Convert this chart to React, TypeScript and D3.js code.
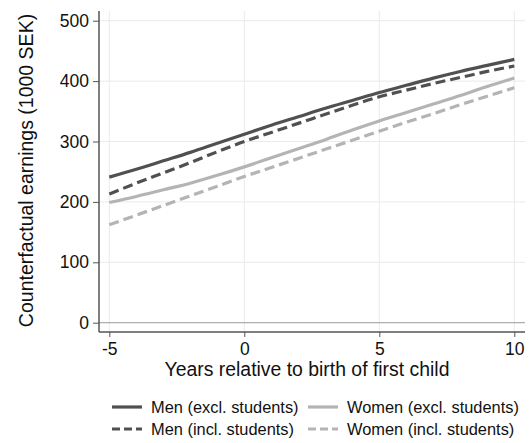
import { useEffect, useRef } from "react";
import * as d3 from "d3";

const YEARS: number[] = [-5, -4, -3, -2, -1, 0, 1, 2, 3, 4, 5, 6, 7, 8, 9, 10];
const MEN_EXCL: number[] = [241, 254, 268, 282, 297, 312, 327, 341, 355, 368, 381, 393, 405, 416, 426, 436];
const MEN_INCL: number[] = [213, 231, 248, 265, 283, 300, 315, 330, 345, 360, 374, 385, 396, 406, 416, 425];
const WOMEN_EXCL: number[] = [199, 209, 220, 231, 244, 258, 273, 288, 303, 319, 334, 348, 362, 376, 391, 405];
const WOMEN_INCL: number[] = [162, 178, 194, 210, 226, 242, 257, 272, 287, 302, 317, 332, 346, 361, 375, 389];
const X_TICKS: number[] = [-5, 0, 5, 10];
const Y_TICKS: number[] = [0, 100, 200, 300, 400, 500];
const LABELS: string[] = [
  "Men (excl. students)",
  "Men (incl. students)",
  "Women (excl. students)",
  "Women (incl. students)",
];

const W = 530;
const H = 443;
const FONT = "Liberation Sans, Arial, sans-serif";
const DARK = "#505050";
const LIGHT = "#b4b4b4";

const App = () => {
  const svgRef = useRef<SVGSVGElement | null>(null);

  useEffect(() => {
    if (!svgRef.current) return;
    const svg = d3.select(svgRef.current);
    svg.selectAll("*").remove();

    const x = d3.scaleLinear().domain([-5, 10]).range([109.3, 514.3]);
    const y = d3.scaleLinear().domain([0, 500]).range([322.7, 20.7]);
    const left = 99;
    const right = 525;
    const top = 11;
    const bottom = 332;

    // grid
    const grid = svg.append("g");
    grid
      .selectAll("line.h")
      .data(Y_TICKS)
      .join("line")
      .attr("x1", left)
      .attr("x2", right)
      .attr("y1", (d) => y(d))
      .attr("y2", (d) => y(d))
      .attr("stroke", "#eaeaea")
      .attr("stroke-width", 1);
    grid
      .selectAll("line.v")
      .data(X_TICKS)
      .join("line")
      .attr("x1", (d) => x(d))
      .attr("x2", (d) => x(d))
      .attr("y1", top)
      .attr("y2", bottom)
      .attr("stroke", "#eaeaea")
      .attr("stroke-width", 1);

    // zero line
    svg
      .append("line")
      .attr("x1", left)
      .attr("x2", right)
      .attr("y1", y(0))
      .attr("y2", y(0))
      .attr("stroke", "#a0a0a0")
      .attr("stroke-width", 1);

    // series
    const series = [
      { vals: WOMEN_INCL, color: LIGHT, dash: "10,5" },
      { vals: WOMEN_EXCL, color: LIGHT, dash: null },
      { vals: MEN_INCL, color: DARK, dash: "10,5" },
      { vals: MEN_EXCL, color: DARK, dash: null },
    ];
    const line = d3
      .line<number>()
      .x((_, i) => x(YEARS[i]))
      .y((d) => y(d))
      .curve(d3.curveMonotoneX);
    series.forEach((s) => {
      svg
        .append("path")
        .datum(s.vals)
        .attr("fill", "none")
        .attr("stroke", s.color)
        .attr("stroke-width", 3.2)
        .attr("stroke-dasharray", s.dash)
        .attr("d", line);
    });

    // axes
    const yAxis = svg
      .append("g")
      .attr("transform", `translate(${left},0)`)
      .call(d3.axisLeft(y).tickValues(Y_TICKS).tickSize(6).tickPadding(4));
    yAxis.select(".domain").attr("d", `M0,${top}V${bottom}`);
    const xAxis = svg
      .append("g")
      .attr("transform", `translate(0,${bottom})`)
      .call(
        d3
          .axisBottom(x)
          .tickValues(X_TICKS)
          .tickSize(5)
          .tickPadding(6)
          .tickFormat((d) => String(d))
      );
    xAxis.select(".domain").attr("d", `M${left},0H${right}`);
    [yAxis, xAxis].forEach((a) => {
      a.selectAll(".domain").attr("stroke", "#555").attr("stroke-width", 1.5);
      a.selectAll(".tick line").attr("stroke", "#555");
      a.selectAll(".tick text")
        .attr("font-family", FONT)
        .attr("font-size", 17.5)
        .attr("fill", "#111");
    });

    // titles
    svg
      .append("text")
      .attr("x", 307)
      .attr("y", 376)
      .attr("text-anchor", "middle")
      .attr("font-family", FONT)
      .attr("font-size", 19.4)
      .attr("fill", "#111")
      .text("Years relative to birth of first child");
    svg
      .append("text")
      .attr("transform", `translate(33,170.5) rotate(-90)`)
      .attr("text-anchor", "middle")
      .attr("font-family", FONT)
      .attr("font-size", 19.5)
      .attr("fill", "#111")
      .text("Counterfactual earnings (1000 SEK)");

    // legend
    const legend = [
      { label: LABELS[0], color: DARK, dash: null, x: 112, y: 407 },
      { label: LABELS[1], color: DARK, dash: "8,4", x: 112, y: 429 },
      { label: LABELS[2], color: LIGHT, dash: null, x: 308, y: 407 },
      { label: LABELS[3], color: LIGHT, dash: "8,4", x: 308, y: 429 },
    ];
    legend.forEach((l) => {
      svg
        .append("line")
        .attr("x1", l.x)
        .attr("x2", l.x + 30)
        .attr("y1", l.y)
        .attr("y2", l.y)
        .attr("stroke", l.color)
        .attr("stroke-width", 3.2)
        .attr("stroke-dasharray", l.dash);
      svg
        .append("text")
        .attr("x", l.x + 39)
        .attr("y", l.y)
        .attr("dy", "0.35em")
        .attr("font-family", FONT)
        .attr("font-size", 16.4)
        .attr("fill", "#111")
        .text(l.label);
    });
  }, []);

  return (
    <svg
      ref={svgRef}
      width={W}
      height={H}
      style={{ position: "absolute", left: 0, top: 0, display: "block", background: "#fff" }}
    />
  );
};

export default App;
